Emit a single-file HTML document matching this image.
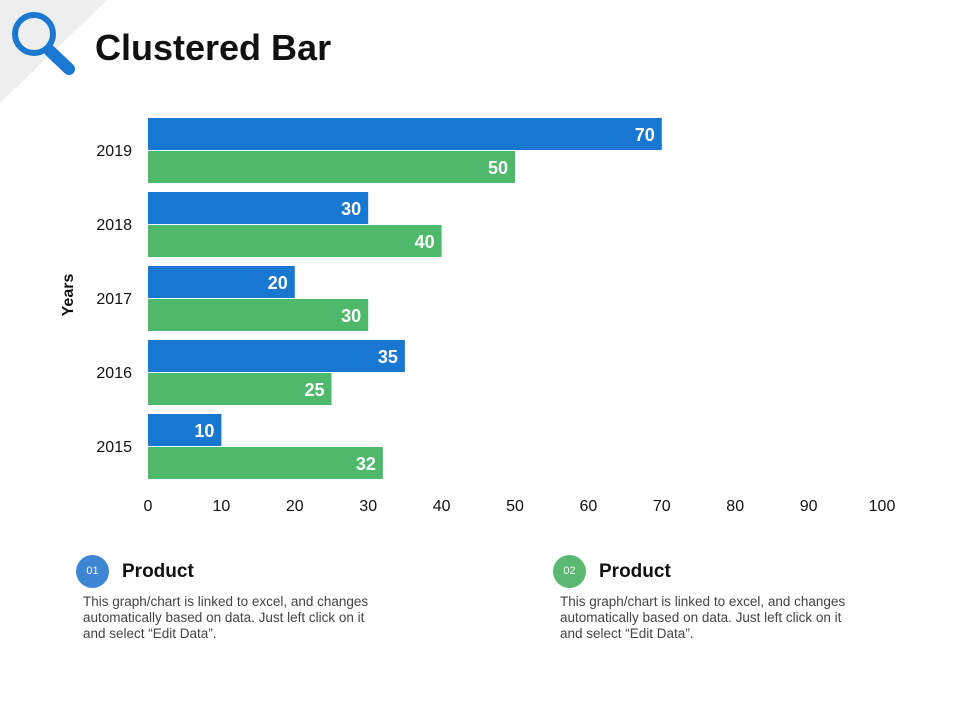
<!DOCTYPE html>
<html><head><meta charset="utf-8"><style>
body{margin:0;background:#fff;font-family:"Liberation Sans",sans-serif}
#wrap{position:relative;width:960px;height:720px;overflow:hidden}
.title{position:absolute;left:95px;top:27px;font-size:36px;font-weight:bold;color:#111}
.num{position:absolute;width:33px;height:33px;border-radius:50%;color:#fff;font-size:11px;text-align:center;line-height:33px}
.ph{position:absolute;font-size:19px;font-weight:bold;color:#111}
.pt{position:absolute;font-size:13.5px;color:#444;line-height:16px;width:296px}
</style></head><body><div id="wrap">
<svg width="960" height="720" style="position:absolute;left:0;top:0">
<polygon points="0,0 107,0 0,103" fill="#eeeeee"/>
<g>
<circle cx="34" cy="34" r="19" fill="none" stroke="#1a78d0" stroke-width="6"/>
<line x1="50" y1="51" x2="69" y2="69" stroke="#1a78d0" stroke-width="12" stroke-linecap="round"/>
</g>
<g id="bars"></g>
</svg>
<div class="title">Clustered Bar</div>
<div class="num" style="left:76px;top:555px;background:#3c86d3">01</div>
<div class="ph" style="left:122px;top:561px">Product</div>
<div class="pt" style="left:83px;top:594px">This graph/chart is linked to excel, and changes automatically based on data. Just left click on it and select “Edit Data”.</div>
<div class="num" style="left:553px;top:555px;background:#5bb873">02</div>
<div class="ph" style="left:599px;top:561px">Product</div>
<div class="pt" style="left:560px;top:594px">This graph/chart is linked to excel, and changes automatically based on data. Just left click on it and select “Edit Data”.</div>
</div>
<script>
const categories=["2015","2016","2017","2018","2019"];
const series1=[10,35,20,30,70];
const series2=[32,25,30,40,50];
const ticks=[0,10,20,30,40,50,60,70,80,90,100];
const NS="http://www.w3.org/2000/svg";
const g=document.getElementById('bars');
const x=v=>148+v*7.34;
const yc=i=>447-i*74;
function el(t,a){const e=document.createElementNS(NS,t);for(const k in a)e.setAttribute(k,a[k]);g.appendChild(e);return e;}
categories.forEach((c,i)=>{
  const cy=yc(i);
  const b1=el('rect',{x:x(0),y:cy-33,width:x(series1[i])-x(0),height:32,fill:'#1877d0'});
  
  
  const b2=el('rect',{x:x(0),y:cy,width:x(series2[i])-x(0),height:32,fill:'#4eb96b'});
  
  
  const t1=el('text',{x:x(series1[i])-7,y:cy-10,'text-anchor':'end','font-size':18,'font-weight':'bold',fill:'#fff'});
  t1.textContent=series1[i];
  
  
  const t2=el('text',{x:x(series2[i])-7,y:cy+23,'text-anchor':'end','font-size':18,'font-weight':'bold',fill:'#fff'});
  t2.textContent=series2[i];
  
  
  const ct=el('text',{x:132,y:cy+5,'text-anchor':'end','font-size':16,fill:'#111'});
  ct.textContent=c;
  
  
});
ticks.forEach(t=>{
  const e=el('text',{x:x(t),y:511,'text-anchor':'middle','font-size':16,fill:'#111'});
  e.textContent=t;
  
  
});
const yt=el('text',{x:0,y:0,transform:'translate(73,295) rotate(-90)','text-anchor':'middle','font-size':16,'font-weight':'bold',fill:'#111'});
yt.textContent='Years';


</script>
</body></html>
